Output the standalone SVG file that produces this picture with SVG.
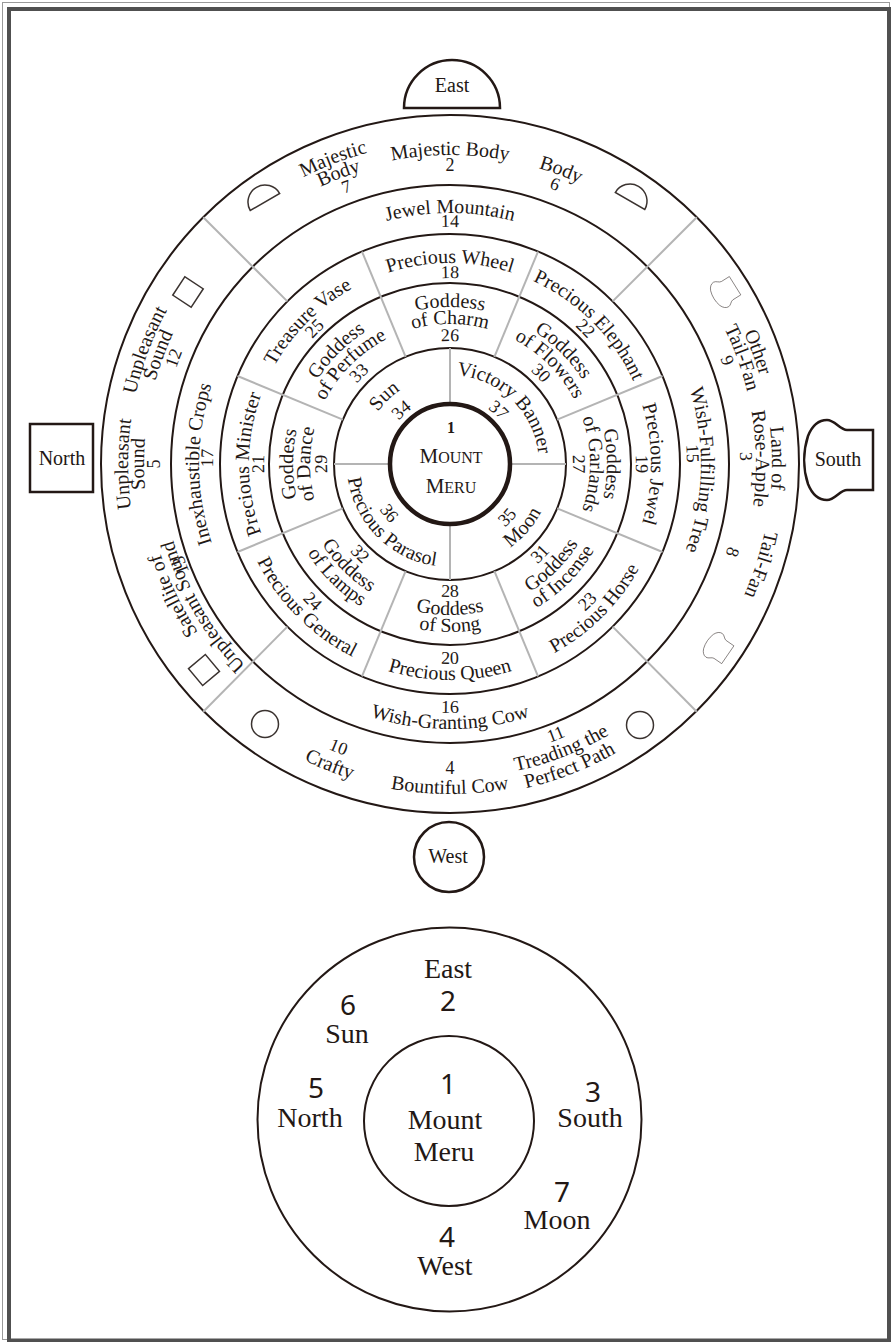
<svg xmlns="http://www.w3.org/2000/svg" width="893" height="1342" viewBox="0 0 893 1342">
<style>
.ring{fill:none;stroke:#231815;stroke-width:2}
.div{stroke:#b4b4b4;stroke-width:2}
.t{font-family:"Liberation Serif","Times New Roman",serif;font-size:20px;fill:#231815;text-anchor:middle}
.n{font-size:18px}
.sym{fill:#fff;stroke:#3b3330;stroke-width:1.5}
.gate{fill:#fff;stroke:#231815;stroke-width:2.5}
.b{font-family:"Liberation Serif","Times New Roman",serif;font-size:28px;fill:#231815;text-anchor:middle}
.bn{font-family:"Noto Sans","DejaVu Sans",sans-serif;font-size:28px;fill:#231815;text-anchor:middle}
</style>
<defs>
<path id="c322" d="M450,786 A322,322 0 1 1 450,142 A322,322 0 1 1 450,786"/>
<path id="c306" d="M450,770 A306,306 0 1 1 450,158 A306,306 0 1 1 450,770"/>
<path id="c290" d="M450,754 A290,290 0 1 1 450,174 A290,290 0 1 1 450,754"/>
<path id="c309" d="M450,773 A309,309 0 1 1 450,155 A309,309 0 1 1 450,773"/>
<path id="c293" d="M450,757 A293,293 0 1 1 450,171 A293,293 0 1 1 450,757"/>
<path id="c303" d="M450,767 A303,303 0 1 1 450,161 A303,303 0 1 1 450,767"/>
<path id="c287" d="M450,751 A287,287 0 1 1 450,177 A287,287 0 1 1 450,751"/>
<path id="c282" d="M450,746 A282,282 0 1 1 450,182 A282,282 0 1 1 450,746"/>
<path id="c251" d="M450,715 A251,251 0 1 1 450,213 A251,251 0 1 1 450,715"/>
<path id="c237" d="M450,701 A237,237 0 1 1 450,227 A237,237 0 1 1 450,701"/>
<path id="c201" d="M450,665 A201,201 0 1 1 450,263 A201,201 0 1 1 450,665"/>
<path id="c186" d="M450,650 A186,186 0 1 1 450,278 A186,186 0 1 1 450,650"/>
<path id="c157" d="M450,621 A157,157 0 1 1 450,307 A157,157 0 1 1 450,621"/>
<path id="c140" d="M450,604 A140,140 0 1 1 450,324 A140,140 0 1 1 450,604"/>
<path id="c123" d="M450,587 A123,123 0 1 1 450,341 A123,123 0 1 1 450,587"/>
<path id="c89" d="M450,553 A89,89 0 1 1 450,375 A89,89 0 1 1 450,553"/>
<path id="c67" d="M450,531 A67,67 0 1 1 450,397 A67,67 0 1 1 450,531"/>
<path id="a330" d="M450,134 A330,330 0 1 0 450,794 A330,330 0 1 0 450,134"/>
<path id="a310" d="M450,154 A310,310 0 1 0 450,774 A310,310 0 1 0 450,154"/>
<path id="a296" d="M450,168 A296,296 0 1 0 450,760 A296,296 0 1 0 450,168"/>
<path id="a314" d="M450,150 A314,314 0 1 0 450,778 A314,314 0 1 0 450,150"/>
<path id="a333" d="M450,131 A333,333 0 1 0 450,797 A333,333 0 1 0 450,131"/>
<path id="a265" d="M450,199 A265,265 0 1 0 450,729 A265,265 0 1 0 450,199"/>
<path id="a249" d="M450,215 A249,249 0 1 0 450,713 A249,249 0 1 0 450,215"/>
<path id="a216" d="M450,248 A216,216 0 1 0 450,680 A216,216 0 1 0 450,248"/>
<path id="a200" d="M450,264 A200,200 0 1 0 450,664 A200,200 0 1 0 450,264"/>
<path id="a168" d="M450,296 A168,168 0 1 0 450,632 A168,168 0 1 0 450,296"/>
<path id="a151" d="M450,313 A151,151 0 1 0 450,615 A151,151 0 1 0 450,313"/>
<path id="a133" d="M450,331 A133,133 0 1 0 450,597 A133,133 0 1 0 450,331"/>
<path id="a103" d="M450,361 A103,103 0 1 0 450,567 A103,103 0 1 0 450,361"/>
<path id="a84" d="M450,380 A84,84 0 1 0 450,548 A84,84 0 1 0 450,380"/>
<path id="shield" d="M-32,-24 C-28,-34 -21,-40 -13,-40 C-5,-40 0,-30 7,-30 L33,-30 L33,30 L7,30 C0,30 -5,40 -13,40 C-21,40 -28,34 -32,24 C-37,9 -37,-9 -32,-24 Z"/>
</defs>

<g id="frame">
<rect x="2.5" y="2.5" width="887" height="1337" fill="none" stroke="#9a9a9a" stroke-width="1"/>
<rect x="9" y="9" width="880" height="1331.5" fill="none" stroke="#505050" stroke-width="4"/>
</g>

<g id="rings">
<circle class="ring" cx="450" cy="464" r="349"/>
<circle class="ring" cx="450" cy="464" r="279"/>
<circle class="ring" cx="450" cy="464" r="230"/>
<circle class="ring" cx="450" cy="464" r="181"/>
<circle class="ring" cx="450" cy="464" r="116"/>
</g>

<g id="connectors">
<line class="div" x1="450" y1="404" x2="450" y2="348"/>
<line class="div" x1="450" y1="524" x2="450" y2="580"/>
<line class="div" x1="510" y1="464" x2="566" y2="464"/>
<line class="div" x1="390" y1="464" x2="334" y2="464"/>
<line class="div" x1="494.39" y1="356.83" x2="538.02" y2="251.51"/>
<line class="div" x1="557.17" y1="419.61" x2="662.49" y2="375.98"/>
<line class="div" x1="557.17" y1="508.39" x2="662.49" y2="552.02"/>
<line class="div" x1="494.39" y1="571.17" x2="538.02" y2="676.49"/>
<line class="div" x1="405.61" y1="571.17" x2="361.98" y2="676.49"/>
<line class="div" x1="342.83" y1="508.39" x2="237.51" y2="552.02"/>
<line class="div" x1="342.83" y1="419.61" x2="237.51" y2="375.98"/>
<line class="div" x1="405.61" y1="356.83" x2="361.98" y2="251.51"/>
<line class="div" x1="612.63" y1="301.37" x2="696.78" y2="217.22"/>
<line class="div" x1="612.63" y1="626.63" x2="696.78" y2="711.78"/>
<line class="div" x1="287.37" y1="626.63" x2="203.22" y2="711.78"/>
<line class="div" x1="287.37" y1="301.37" x2="203.22" y2="217.22"/>
</g>

<g id="meru">
<circle cx="450" cy="464" r="60" fill="#fff" stroke="#231815" stroke-width="4.5"/>
<text class="t" x="451" y="433" style="font-size:16px;font-weight:bold">1</text>
<text class="t" x="451" y="463"><tspan style="font-size:21px">M</tspan><tspan style="font-size:16px">OUNT</tspan></text>
<text class="t" x="451" y="493"><tspan style="font-size:21px">M</tspan><tspan style="font-size:16px">ERU</tspan></text>
</g>

<g id="gate-east">
<path class="gate" d="M404,108 A48,48 0 0 1 500,108 Z"/>
<text class="t" x="452" y="92">East</text>
</g>
<g id="gate-north">
<rect class="gate" x="30" y="424" width="63" height="68" stroke-width="3"/>
<text class="t" x="62" y="465">North</text>
</g>
<g id="gate-south">
<use href="#shield" transform="translate(840,460)" class="gate" stroke-width="2.5"/>
<text class="t" x="838" y="466">South</text>
</g>
<g id="gate-west">
<circle class="gate" cx="449" cy="857" r="35"/>
<text class="t" x="448" y="863">West</text>
</g>

<g id="symbols">
<path class="sym" d="M-17,0 A17,17 0 0 1 17,0 Z" transform="translate(265,202) rotate(-30)"/>
<path class="sym" d="M-17,0 A17,17 0 0 1 17,0 Z" transform="translate(630,201) rotate(30)"/>
<rect class="sym" x="-11" y="-11" width="22" height="22" transform="translate(188,292) rotate(-56.7)"/>
<rect class="sym" x="-11" y="-11" width="22" height="22" transform="translate(204,670) rotate(-130)"/>
<use href="#shield" class="sym" stroke-width="4" transform="translate(725,292) rotate(-32) scale(0.36)"/>
<use href="#shield" class="sym" stroke-width="4" transform="translate(718,648) rotate(34.5) scale(0.36)"/>
<circle class="sym" cx="265" cy="724" r="13.5"/>
<circle class="sym" cx="640" cy="725" r="13.5"/>
</g>

<g id="n2"><text class="t"><textPath href="#c309" startOffset="50%">Majestic Body</textPath></text><text class="t n"><textPath href="#c293" startOffset="50%">2</textPath></text></g>
<g id="n7"><text class="t"><textPath href="#c322" startOffset="44.17%">Majestic</textPath></text><text class="t"><textPath href="#c306" startOffset="44.17%">Body</textPath></text><text class="t n"><textPath href="#c290" startOffset="44.31%">7</textPath></text></g>
<g id="n6"><text class="t"><textPath href="#c309" startOffset="55.75%">Body</textPath></text><text class="t n"><textPath href="#c293" startOffset="55.72%">6</textPath></text></g>
<g id="n9"><text class="t"><textPath href="#c322" startOffset="69.44%">Other</textPath></text><text class="t"><textPath href="#c306" startOffset="69.44%">Tail-Fan</textPath></text><text class="t n"><textPath href="#c290" startOffset="69.31%">9</textPath></text></g>
<g id="n3"><text class="t"><textPath href="#c322" startOffset="74.72%">Land of</textPath></text><text class="t"><textPath href="#c306" startOffset="74.72%">Rose-Apple</textPath></text><text class="t n"><textPath href="#c290" startOffset="74.58%">3</textPath></text></g>
<g id="n8"><text class="t"><textPath href="#c322" startOffset="80%">Tail-Fan</textPath></text><text class="t n"><textPath href="#c290" startOffset="79.81%">8</textPath></text></g>
<g id="n5"><text class="t"><textPath href="#c322" startOffset="25%">Unpleasant</textPath></text><text class="t"><textPath href="#c306" startOffset="25%">Sound</textPath></text><text class="t n"><textPath href="#c290" startOffset="25%">5</textPath></text></g>
<g id="n12"><text class="t"><textPath href="#c322" startOffset="30.69%">Unpleasant</textPath></text><text class="t"><textPath href="#c306" startOffset="30.69%">Sound</textPath></text><text class="t n"><textPath href="#c290" startOffset="30.83%">12</textPath></text></g>
<g id="n13"><text class="t"><textPath href="#c303" startOffset="17.92%">Satellite of</textPath></text><text class="t"><textPath href="#c287" startOffset="16.67%">Unpleasant Sound</textPath></text><text class="t n"><textPath href="#c282" startOffset="19.28%">13</textPath></text></g>
<g id="n10"><text class="t n"><textPath href="#a310" startOffset="44.03%">10</textPath></text><text class="t"><textPath href="#a330" startOffset="43.94%">Crafty</textPath></text></g>
<g id="n4"><text class="t n"><textPath href="#a310" startOffset="50%">4</textPath></text><text class="t"><textPath href="#a330" startOffset="50%">Bountiful Cow</textPath></text></g>
<g id="n11"><text class="t n"><textPath href="#a296" startOffset="55.94%">11</textPath></text><text class="t"><textPath href="#a314" startOffset="55.92%">Treading the</textPath></text><text class="t"><textPath href="#a333" startOffset="56%">Perfect Path</textPath></text></g>

<g id="n14"><text class="t"><textPath href="#c251" startOffset="50%">Jewel Mountain</textPath></text><text class="t n"><textPath href="#c237" startOffset="50%">14</textPath></text></g>
<g id="n15"><text class="t"><textPath href="#c251" startOffset="75.39%">Wish-Fulfilling Tree</textPath></text><text class="t n"><textPath href="#c237" startOffset="74.31%">15</textPath></text></g>
<g id="n16"><text class="t n"><textPath href="#a249" startOffset="50%">16</textPath></text><text class="t"><textPath href="#a265" startOffset="50%">Wish-Granting Cow</textPath></text></g>
<g id="n17"><text class="t"><textPath href="#c251" startOffset="25%">Inexhaustible Crops</textPath></text><text class="t n"><textPath href="#c237" startOffset="25.39%">17</textPath></text></g>

<g id="n18"><text class="t"><textPath href="#c201" startOffset="50%">Precious Wheel</textPath></text><text class="t n"><textPath href="#c186" startOffset="50%">18</textPath></text></g>
<g id="n22"><text class="t"><textPath href="#c201" startOffset="62.5%">Precious Elephant</textPath></text><text class="t n"><textPath href="#c186" startOffset="62.5%">22</textPath></text></g>
<g id="n19"><text class="t"><textPath href="#c201" startOffset="75%">Precious Jewel</textPath></text><text class="t n"><textPath href="#c186" startOffset="75%">19</textPath></text></g>
<g id="n23"><text class="t n"><textPath href="#a200" startOffset="62.5%">23</textPath></text><text class="t"><textPath href="#a216" startOffset="62.5%">Precious Horse</textPath></text></g>
<g id="n20"><text class="t n"><textPath href="#a200" startOffset="50%">20</textPath></text><text class="t"><textPath href="#a216" startOffset="50%">Precious Queen</textPath></text></g>
<g id="n24"><text class="t n"><textPath href="#a200" startOffset="37.5%">24</textPath></text><text class="t"><textPath href="#a216" startOffset="37.5%">Precious General</textPath></text></g>
<g id="n21"><text class="t"><textPath href="#c201" startOffset="25%">Precious Minister</textPath></text><text class="t n"><textPath href="#c186" startOffset="25%">21</textPath></text></g>
<g id="n25"><text class="t"><textPath href="#c201" startOffset="37.5%">Treasure Vase</textPath></text><text class="t n"><textPath href="#c186" startOffset="37.5%">25</textPath></text></g>

<g id="n26"><text class="t"><textPath href="#c157" startOffset="50%">Goddess</textPath></text><text class="t"><textPath href="#c140" startOffset="50%">of Charm</textPath></text><text class="t n"><textPath href="#c123" startOffset="50%">26</textPath></text></g>
<g id="n30"><text class="t"><textPath href="#c157" startOffset="62.5%">Goddess</textPath></text><text class="t"><textPath href="#c140" startOffset="62.5%">of Flowers</textPath></text><text class="t n"><textPath href="#c123" startOffset="62.5%">30</textPath></text></g>
<g id="n27"><text class="t"><textPath href="#c157" startOffset="75%">Goddess</textPath></text><text class="t"><textPath href="#c140" startOffset="75%">of Garlands</textPath></text><text class="t n"><textPath href="#c123" startOffset="75%">27</textPath></text></g>
<g id="n31"><text class="t n"><textPath href="#a133" startOffset="62.5%">31</textPath></text><text class="t"><textPath href="#a151" startOffset="62.5%">Goddess</textPath></text><text class="t"><textPath href="#a168" startOffset="62.5%">of Incense</textPath></text></g>
<g id="n28"><text class="t n"><textPath href="#a133" startOffset="50%">28</textPath></text><text class="t"><textPath href="#a151" startOffset="50%">Goddess</textPath></text><text class="t"><textPath href="#a168" startOffset="50%">of Song</textPath></text></g>
<g id="n32"><text class="t n"><textPath href="#a133" startOffset="37.5%">32</textPath></text><text class="t"><textPath href="#a151" startOffset="37.5%">Goddess</textPath></text><text class="t"><textPath href="#a168" startOffset="37.5%">of Lamps</textPath></text></g>
<g id="n29"><text class="t"><textPath href="#c157" startOffset="25%">Goddess</textPath></text><text class="t"><textPath href="#c140" startOffset="25%">of Dance</textPath></text><text class="t n"><textPath href="#c123" startOffset="25%">29</textPath></text></g>
<g id="n33"><text class="t"><textPath href="#c157" startOffset="37.5%">Goddess</textPath></text><text class="t"><textPath href="#c140" startOffset="37.5%">of Perfume</textPath></text><text class="t n"><textPath href="#c123" startOffset="37.5%">33</textPath></text></g>

<g id="n34"><text class="t"><textPath href="#c89" startOffset="37.78%">Sun</textPath></text><text class="t n"><textPath href="#c67" startOffset="38.33%">34</textPath></text></g>
<g id="n37"><text class="t"><textPath href="#c89" startOffset="62.22%">Victory Banner</textPath></text><text class="t n"><textPath href="#c67" startOffset="61.67%">37</textPath></text></g>
<g id="n35"><text class="t n"><textPath href="#a84" startOffset="63.06%">35</textPath></text><text class="t"><textPath href="#a103" startOffset="63.61%">Moon</textPath></text></g>
<g id="n36"><text class="t n"><textPath href="#a84" startOffset="35.83%">36</textPath></text><text class="t"><textPath href="#a103" startOffset="37.5%">Precious Parasol</textPath></text></g>

<g id="small-diagram">
<circle class="ring" cx="449.5" cy="1119.5" r="192"/>
<circle class="ring" cx="449" cy="1121" r="85"/>
<g id="s-east"><text class="b" x="448" y="978">East</text><text class="bn" x="448" y="1011">2</text></g>
<g id="s-sun"><text class="bn" x="348" y="1015">6</text><text class="b" x="347" y="1043">Sun</text></g>
<g id="s-north"><text class="bn" x="316" y="1098">5</text><text class="b" x="310" y="1127">North</text></g>
<g id="s-meru"><text class="bn" x="448" y="1094">1</text><text class="b" x="445" y="1129">Mount</text><text class="b" x="444" y="1161">Meru</text></g>
<g id="s-south"><text class="bn" x="593" y="1102">3</text><text class="b" x="590" y="1127">South</text></g>
<g id="s-moon"><text class="bn" x="562" y="1202">7</text><text class="b" x="557" y="1229">Moon</text></g>
<g id="s-west"><text class="bn" x="447" y="1247">4</text><text class="b" x="445" y="1275">West</text></g>
</g>
</svg>
